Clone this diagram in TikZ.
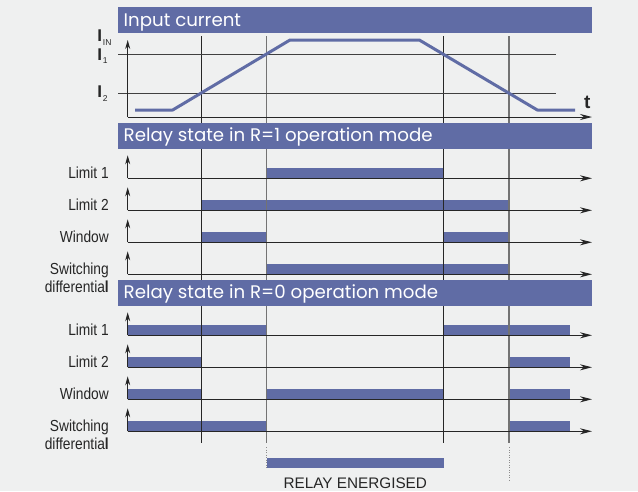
\documentclass[tikz,border=0pt]{standalone}
\usepackage{fontspec}
\setmainfont{Liberation Sans}
\newfontfamily\hdrfont{Poppins}
\newfontfamily\lblfont[FakeStretch=0.86]{Liberation Sans}
\usetikzlibrary{arrows.meta}
\definecolor{bg}{RGB}{239,240,240}
\definecolor{barc}{RGB}{96,108,165}
\begin{document}
\begin{tikzpicture}[x=1pt,y=-1pt,
 hdr/.style={fill=barc},
 hdrtext/.style={anchor=base west, text=white, font=\hdrfont\fontsize{18.2}{18.2}\selectfont, inner sep=0pt},
 lbl/.style={anchor=base east, font=\lblfont\fontsize{16}{16}\selectfont, inner sep=0pt, text=black!85},
 ilbl/.style={anchor=base west, font=\bfseries\fontsize{17}{17}\selectfont, inner sep=0pt, text=black!85},
 axis/.style={line width=0.9pt, draw=black!85},
 yarr/.style={axis, -{Stealth[length=9pt,width=5pt]}},
 xarr/.style={axis, -{Stealth[length=12pt,width=6pt]}},
 sig/.style={fill=barc},
 vdark/.style={line width=1.1pt, draw=black!85},
 vgray/.style={line width=1.1pt, draw=black!55},
 grid/.style={line width=0.9pt, draw=black!75},
 dots/.style={line width=1pt, draw=black!45, dash pattern=on 1pt off 1.5pt},
]
\fill[bg] (0,0) rectangle (638,491);
\useasboundingbox (0,0) rectangle (638,491);
\def\xa{201.7}\def\xb{266.7}\def\xc{443.7}\def\xd{509}
\def\xo{127.7}\def\xe{570}
% ---- signal bars
\foreach \r/\segs in {178.3/{\xb/\xc}, 210.3/{\xa/\xd}, 242.3/{\xa/\xb,\xc/\xd}, 274.3/{\xb/\xd},
                      335.3/{\xo/\xb,\xc/\xe}, 367.3/{\xo/\xa,\xd/\xe}, 399.3/{\xo/\xa,\xb/\xc,\xd/\xe}, 431.3/{\xo/\xb,\xd/\xe}}{
  \foreach \p/\q in \segs { \fill[barc] (\p,\r-10) rectangle (\q,\r); }
}
% relay energised bar
\fill[barc] (\xb,458.3) rectangle (\xc,468.3);
\node[anchor=base, font=\fontsize{15.3}{15.3}\selectfont, text=black!85, inner sep=0pt] (relay) at (355.3,488) {RELAY ENERGISED};
% ---- vertical time lines
\coordinate (t1) at (\xa,36); \coordinate (b1) at (\xa,443);
\coordinate (t2) at (\xb,36); \coordinate (b2) at (\xb,443);
\coordinate (t3) at (\xc,36); \coordinate (b3) at (\xc,443);
\coordinate (t4) at (\xd,36); \coordinate (b4) at (\xd,443);
\draw[vdark] (t1) -- (b1);
\draw[vgray] (t2) -- (b2);
\draw[vdark] (t3) -- (b3);
\draw[vgray] (t4) -- (b4);
\coordinate (d2) at (\xb,468); \coordinate (d4) at (\xd,482);
\draw[dots] (\xb,447) -- (d2);
\draw[dots] (\xd,447) -- (d4);
% ---- input current graph
\coordinate (g1a) at (118,54.3); \coordinate (g1b) at (555.7,54.3);
\coordinate (g2a) at (118,93.3); \coordinate (g2b) at (555.7,93.3);
\draw[grid] (g1a) -- (g1b);
\draw[grid] (g2a) -- (g2b);
\coordinate (o) at (\xo,117);
\draw[yarr] (o) -- (\xo,40);
\draw[xarr] (o) -- (592,117);
\draw[barc, line width=3pt, line join=round] (135,110) -- (172.7,110) -- (290,40) -- (419.3,40) -- (537.3,110) -- (575,110);
\node[anchor=base west, font=\bfseries\fontsize{19}{19}\selectfont, text=black!85, inner sep=0pt] (tl) at (584,108) {t};
\node[ilbl] (iin) at (97.2,41.7) {I\kern0.8pt\raisebox{-3.3pt}{\mdseries\fontsize{8.5}{8.5}\selectfont IN}};
\node[ilbl] (i1) at (97.2,60) {I\kern0.8pt\raisebox{-3.3pt}{\mdseries\fontsize{8.5}{8.5}\selectfont 1}};
\node[ilbl] (i2) at (97.2,97.7) {I\kern0.8pt\raisebox{-3.3pt}{\mdseries\fontsize{8.5}{8.5}\selectfont 2}};
% ---- relay state axes
\foreach \r in {178.3,210.3,242.3,274.3,335.3,367.3,399.3,431.3}{
  \draw[yarr] (\xo,\r) -- (\xo,\r-23);
  \draw[xarr] (\xo,\r) -- (592,\r);
}
% ---- labels
\foreach \r in {178.3,335.3}{
  \node[lbl] at (109,\r) {Limit 1};
  \node[lbl] at (109,\r+32) {Limit 2};
  \node[lbl] at (109,\r+64) {Window};
  \node[lbl] at (109,\r+96) {Switching};
  \node[lbl] at (109,\r+114.5) {differentia\textbf{l}};
}
% ---- header bars
\fill[hdr] (118,7) rectangle (592,33);
\fill[hdr] (118,123) rectangle (592,149);
\fill[hdr] (118,280) rectangle (592,306);
\node[hdrtext] (h1) at (123.5,26.7) {Input current};
\node[hdrtext] (h2) at (123.5,141.7) {Relay state in R=1 operation mode};
\node[hdrtext] (h3) at (123.5,298.7) {Relay state in R=0 operation mode};
\end{tikzpicture}
\end{document}
